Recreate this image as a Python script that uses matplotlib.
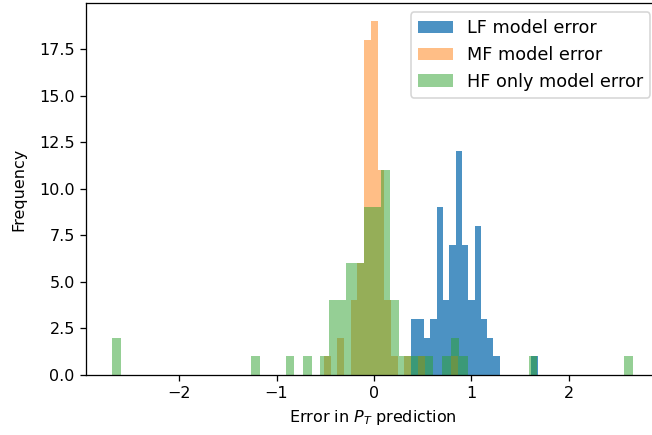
import numpy as np
import matplotlib
matplotlib.use("Agg")
import matplotlib.pyplot as plt

# bin ranges (data units) and counts
lf_range = (0.384, 1.681)
lf_counts = [3, 3, 2, 3, 9, 4, 7, 12, 7, 4, 8, 3, 2, 1, 0, 0, 0, 0, 0, 1]

mf_range = (-0.514, 0.865)
mf_counts = [1, 0, 2, 0, 4, 6, 18, 19, 11, 4, 1, 0, 1, 0, 1, 0, 0, 0, 0, 1]

hf_range = (-2.689, 2.659)
hf_counts = [2, 0, 0, 0, 0, 0, 0, 0, 0, 0,
             0, 0, 0, 0, 0, 0, 1, 0, 0, 0,
             1, 0, 1, 0, 1, 4, 4, 6, 6, 9,
             9, 11, 4, 1, 1, 1, 1, 0, 1, 2,
             1, 0, 0, 0, 0, 0, 0, 0, 1, 0,
             0, 0, 0, 0, 0, 0, 0, 0, 0, 1]

labels = ['LF model error', 'MF model error', 'HF only model error']


def hist_counts(ax, rng, counts, **kw):
    edges = np.linspace(rng[0], rng[1], len(counts) + 1)
    centers = (edges[:-1] + edges[1:]) / 2
    ax.hist(centers, bins=edges, weights=counts, **kw)


dpi = 115
fig = plt.figure(figsize=(652 / dpi, 435 / dpi), dpi=dpi)
ax = fig.add_axes([0.1319, 0.1379, 0.8788, 0.8545])

hist_counts(ax, lf_range, lf_counts, alpha=0.8, label=labels[0])
hist_counts(ax, mf_range, mf_counts, alpha=0.5, label=labels[1])
hist_counts(ax, hf_range, hf_counts, alpha=0.5, label=labels[2])

ax.set_xlabel('Error in $P_T$ prediction')
ax.set_ylabel('Frequency', labelpad=8)
ax.legend(loc='upper right', fontsize=11)

fig.savefig('out.png', dpi=dpi)
